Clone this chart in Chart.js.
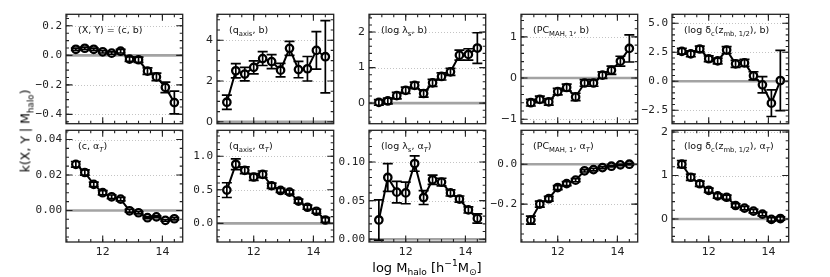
<!DOCTYPE html>
<html>
<head>
<meta charset="utf-8">
<script src="https://cdn.jsdelivr.net/npm/chart.js@4.4.0/dist/chart.umd.min.js"></script>
<style>
  body { margin:0; background:#fff; width:830px; height:277px; overflow:hidden; position:relative; font-family:"DejaVu Sans", sans-serif; color:#000; }
  canvas { position:absolute; }
  .lab { position:absolute; white-space:nowrap; z-index:5; color:#000; }
  .lab sub, .lab sup { font-size:70%; line-height:0; }
  #ylab { left:25px; top:131px; transform:translate(-50%,-50%) rotate(-90deg); font-size:12.5px; }
  #xlab { left:427px; top:267px; transform:translate(-50%,-50%); font-size:13px; }
</style>
</head>
<body>
<div id="ylab" class="lab">k(X, Y | M<sub>halo</sub>)</div>
<div id="xlab" class="lab">log M<sub>halo</sub> [h<sup>−1</sup>M<sub>⊙</sub>]</div>
<script>
// halo mass bins (log M_halo)
const massBins = [11.1, 11.4, 11.7, 12.0, 12.3, 12.6, 12.9, 13.2, 13.5, 13.8, 14.1, 14.4];
const xTickVals = [12, 14];
const xTickLabels = ['12', '14'];
const xLim = [10.77, 14.68];

// (c, b)
const kConcB = [0.041, 0.048, 0.041, 0.024, 0.015, 0.028, -0.026, -0.030, -0.107, -0.146, -0.217, -0.320];
const eConcB = [0.008, 0.008, 0.008, 0.008, 0.008, 0.012, 0.015, 0.018, 0.022, 0.025, 0.035, 0.077];
const yLimConcB = [-0.463, 0.278];
const yTicksConcB = [-0.4, -0.2, 0, 0.2];
const yLabelsConcB = ['−0.4', '−0.2', '0.0', '0.2'];

// (c, alpha_T)
const kConcA = [0.0260, 0.0214, 0.0147, 0.0100, 0.0077, 0.0064, -0.0002, -0.0013, -0.0041, -0.0036, -0.0056, -0.0047];
const eConcA = [0.0016, 0.0015, 0.0013, 0.0012, 0.0010, 0.0010, 0.0008, 0.0006, 0.0005, 0.0005, 0.0005, 0.0006];
const yLimConcA = [-0.0178, 0.0452];
const yTicksConcA = [0, 0.02, 0.04];
const yLabelsConcA = ['0.00', '0.02', '0.04'];

// (q_axis, b)
const kQaxB = [0.96, 2.50, 2.34, 2.67, 3.10, 2.95, 2.53, 3.60, 2.56, 2.60, 3.50, 3.19];
const eQaxB = [0.35, 0.35, 0.33, 0.32, 0.34, 0.34, 0.33, 0.34, 0.40, 0.60, 0.92, 1.77];
const yLimQaxB = [-0.094, 5.27];
const yTicksQaxB = [0, 2, 4];
const yLabelsQaxB = ['0', '2', '4'];

// (q_axis, alpha_T)
const kQaxA = [0.495, 0.88, 0.79, 0.69, 0.73, 0.56, 0.49, 0.465, 0.33, 0.24, 0.18, 0.05];
const eQaxA = [0.11, 0.08, 0.05, 0.05, 0.05, 0.04, 0.03, 0.03, 0.03, 0.03, 0.03, 0.035];
const yLimQaxA = [-0.278, 1.386];
const yTicksQaxA = [0, 0.5, 1.0];
const yLabelsQaxA = ['0.0', '0.5', '1.0'];

// (log lambda_s, b)
const kSpinB = [0.02, 0.06, 0.21, 0.36, 0.50, 0.27, 0.57, 0.75, 0.88, 1.35, 1.37, 1.55];
const eSpinB = [0.08, 0.08, 0.09, 0.09, 0.09, 0.10, 0.10, 0.10, 0.10, 0.14, 0.16, 0.43];
const yLimSpinB = [-0.58, 2.5];
const yTicksSpinB = [0, 1, 2];
const yLabelsSpinB = ['0', '1', '2'];

// (log lambda_s, alpha_T)
const kSpinA = [0.025, 0.080, 0.061, 0.060, 0.098, 0.054, 0.077, 0.074, 0.060, 0.052, 0.038, 0.027];
const eSpinA = [0.026, 0.018, 0.014, 0.014, 0.010, 0.009, 0.006, 0.005, 0.004, 0.004, 0.004, 0.006];
const yLimSpinA = [-0.0035, 0.141];
const yTicksSpinA = [0, 0.05, 0.10];
const yLabelsSpinA = ['0.00', '0.05', '0.10'];

// (PC_MAH,1, b)
const kPcB = [-0.60, -0.52, -0.58, -0.33, -0.23, -0.46, -0.12, -0.12, 0.07, 0.19, 0.41, 0.72];
const ePcB = [0.08, 0.08, 0.08, 0.08, 0.08, 0.09, 0.08, 0.08, 0.08, 0.10, 0.12, 0.33];
const yLimPcB = [-1.11, 1.55];
const yTicksPcB = [-1, 0, 1];
const yLabelsPcB = ['−1', '0', '1'];

// (PC_MAH,1, alpha_T)
const kPcA = [-0.280, -0.200, -0.173, -0.117, -0.097, -0.080, -0.033, -0.027, -0.017, -0.010, -0.003, 0.000];
const ePcA = [0.020, 0.015, 0.012, 0.010, 0.010, 0.008, 0.006, 0.006, 0.005, 0.004, 0.004, 0.004];
const yLimPcA = [-0.39, 0.17];
const yTicksPcA = [-0.2, 0];
const yLabelsPcA = ['−0.2', '0.0'];

// (log delta_c(z_mb,1/2), b)
const kDeltaB = [2.58, 2.36, 2.78, 1.94, 1.75, 2.69, 1.50, 1.58, 0.47, -0.31, -1.89, 0.06];
const eDeltaB = [0.25, 0.25, 0.25, 0.25, 0.25, 0.30, 0.30, 0.30, 0.35, 0.70, 1.15, 2.60];
const yLimDeltaB = [-3.66, 5.77];
const yTicksDeltaB = [-2.5, 0, 2.5, 5.0];
const yLabelsDeltaB = ['−2.5', '0.0', '2.5', '5.0'];

// (log delta_c(z_mb,1/2), alpha_T)
const kDeltaA = [1.26, 0.96, 0.81, 0.66, 0.53, 0.50, 0.31, 0.25, 0.18, 0.11, -0.01, 0.01];
const eDeltaA = [0.08, 0.07, 0.06, 0.05, 0.05, 0.05, 0.04, 0.04, 0.04, 0.04, 0.04, 0.04];
const yLimDeltaA = [-0.53, 2.04];
const yTicksDeltaA = [0, 1, 2];
const yLabelsDeltaA = ['0', '1', '2'];

const panels = [
  {col:0, row:0, y:kConcB,  e:eConcB,  lim:yLimConcB,  tv:yTicksConcB,  tl:yLabelsConcB,  minor:0.05,  mono:true,  txt:[['(X, Y) = (c, b)']]},
  {col:0, row:1, y:kConcA,  e:eConcA,  lim:yLimConcA,  tv:yTicksConcA,  tl:yLabelsConcA,  minor:0.005, mono:true,  txt:[['(c, α'],['T',-1,1],[')']]},
  {col:1, row:0, y:kQaxB,   e:eQaxB,   lim:yLimQaxB,   tv:yTicksQaxB,   tl:yLabelsQaxB,   minor:0.5,   mono:false, txt:[['(q'],['axis',-1],[', b)']]},
  {col:1, row:1, y:kQaxA,   e:eQaxA,   lim:yLimQaxA,   tv:yTicksQaxA,   tl:yLabelsQaxA,   minor:0.1,   mono:true,  txt:[['(q'],['axis',-1],[', α'],['T',-1,1],[')']]},
  {col:2, row:0, y:kSpinB,  e:eSpinB,  lim:yLimSpinB,  tv:yTicksSpinB,  tl:yLabelsSpinB,  minor:0.2,   mono:false, txt:[['(log λ'],['s',-1],[', b)']]},
  {col:2, row:1, y:kSpinA,  e:eSpinA,  lim:yLimSpinA,  tv:yTicksSpinA,  tl:yLabelsSpinA,  minor:0.01,  mono:true,  txt:[['(log λ'],['s',-1],[', α'],['T',-1,1],[')']]},
  {col:3, row:0, y:kPcB,    e:ePcB,    lim:yLimPcB,    tv:yTicksPcB,    tl:yLabelsPcB,    minor:0.2,   mono:false, txt:[['(PC'],['MAH, 1',-1],[', b)']]},
  {col:3, row:1, y:kPcA,    e:ePcA,    lim:yLimPcA,    tv:yTicksPcA,    tl:yLabelsPcA,    minor:0.05,  mono:true,  txt:[['(PC'],['MAH, 1',-1],[', α'],['T',-1,1],[')']]},
  {col:4, row:0, y:kDeltaB, e:eDeltaB, lim:yLimDeltaB, tv:yTicksDeltaB, tl:yLabelsDeltaB, minor:0.5,   mono:true,  txt:[['(log δ'],['c',-1],['(z'],['mb, 1/2',-1],['), b)']]},
  {col:4, row:1, y:kDeltaA, e:eDeltaA, lim:yLimDeltaA, tv:yTicksDeltaA, tl:yLabelsDeltaA, minor:0.2,   mono:false, txt:[['(log δ'],['c',-1],['(z'],['mb, 1/2',-1],['), α'],['T',-1,1],[')']]}
];

const colLeft = [66, 217, 369, 521, 672];
const rowTop = [14, 130];
const rowH = [114, 112];
const panelW = 117;
const ML = 48, MR = 6, MT = 6;

function drawRich(ctx, x, y, segs, size) {
  segs.forEach(([t, m, it]) => {
    const fs = m ? size * 0.72 : size;
    ctx.font = (it ? 'italic ' : '') + fs + 'px "DejaVu Sans"';
    const dy = m === -1 ? size * 0.3 : (m === 1 ? -size * 0.4 : 0);
    ctx.fillText(t, x, y + dy);
    x += ctx.measureText(t).width;
  });
}

function minorVals(lo, hi, step) {
  const out = [];
  for (let v = Math.ceil(lo / step) * step; v <= hi + 1e-9; v += step) out.push(+v.toFixed(6));
  return out;
}

const panelPlugin = {
  id: 'panelDeco',
  beforeDatasetsDraw(chart) {
    const p = chart.options.plugins.panelDeco.p;
    const {ctx, chartArea: a, scales: {y}} = chart;
    ctx.save();
    // dotted grid at major y ticks
    ctx.strokeStyle = '#b5b5b5';
    ctx.lineWidth = 0.8;
    ctx.setLineDash([1, 2]);
    p.tv.forEach(v => {
      if (v === 0) return;
      const py = Math.round(y.getPixelForValue(v)) + 0.5;
      ctx.beginPath(); ctx.moveTo(a.left, py); ctx.lineTo(a.right, py); ctx.stroke();
    });
    ctx.setLineDash([]);
    // zero line
    const z = y.getPixelForValue(0);
    ctx.strokeStyle = 'rgba(140,140,140,0.8)';
    ctx.lineWidth = 2.6;
    ctx.beginPath(); ctx.moveTo(a.left, z); ctx.lineTo(a.right, z); ctx.stroke();
    ctx.restore();
  },
  afterDatasetsDraw(chart) {
    const p = chart.options.plugins.panelDeco.p;
    const {ctx, chartArea: a, scales: {x, y}} = chart;
    ctx.save();
    // error bars
    const meta = chart.getDatasetMeta(0);
    ctx.strokeStyle = '#000';
    ctx.lineWidth = 1.7;
    meta.data.forEach((pt, i) => {
      const lo = y.getPixelForValue(p.y[i] - p.e[i]);
      const hi = y.getPixelForValue(p.y[i] + p.e[i]);
      ctx.beginPath();
      ctx.moveTo(pt.x, lo); ctx.lineTo(pt.x, hi);
      ctx.moveTo(pt.x - 5, lo); ctx.lineTo(pt.x + 5, lo);
      ctx.moveTo(pt.x - 5, hi); ctx.lineTo(pt.x + 5, hi);
      ctx.stroke();
    });
    // frame
    ctx.strokeStyle = '#222';
    ctx.lineWidth = 1.3;
    ctx.strokeRect(a.left, a.top, a.right - a.left, a.bottom - a.top);
    // inward ticks, all four sides
    ctx.lineWidth = 1.1;
    const tick = (px, len, horiz) => {
      ctx.beginPath();
      if (horiz) {
        ctx.moveTo(px, a.bottom); ctx.lineTo(px, a.bottom - len);
        ctx.moveTo(px, a.top); ctx.lineTo(px, a.top + len);
      } else {
        ctx.moveTo(a.left, px); ctx.lineTo(a.left + len, px);
        ctx.moveTo(a.right, px); ctx.lineTo(a.right - len, px);
      }
      ctx.stroke();
    };
    minorVals(xLim[0], xLim[1], 0.4).forEach(v => tick(x.getPixelForValue(v), 3, true));
    xTickVals.forEach(v => tick(x.getPixelForValue(v), 6.5, true));
    minorVals(p.lim[0], p.lim[1], p.minor).forEach(v => tick(y.getPixelForValue(v), 3, false));
    p.tv.forEach(v => tick(y.getPixelForValue(v), 6.5, false));
    // annotation
    ctx.fillStyle = '#111';
    ctx.textBaseline = 'alphabetic';
    drawRich(ctx, a.left + 12, a.top + 19, p.txt, 9.5);
    ctx.restore();
  }
};

panels.forEach(p => {
  const cv = document.createElement('canvas');
  const bottomRow = p.row === 1;
  const MB = bottomRow ? 24 : 2;
  const w = ML + panelW + MR, h = MT + rowH[p.row] + MB;
  cv.width = w; cv.height = h;
  cv.style.left = (colLeft[p.col] - ML) + 'px';
  cv.style.top = (rowTop[p.row] - MT) + 'px';
  document.body.appendChild(cv);
  const tickFont = p.mono ? '"DejaVu Sans Mono"' : '"DejaVu Sans"';
  new Chart(cv, {
    type: 'line',
    data: {
      datasets: [{
        data: massBins.map((m, i) => ({x: m, y: p.y[i]})),
        borderColor: '#000',
        borderWidth: 2,
        pointRadius: 3.7,
        pointBorderWidth: 2.3,
        pointBorderColor: '#000',
        pointBackgroundColor: '#fff',
        tension: 0
      }]
    },
    options: {
      responsive: false,
      animation: false,
      devicePixelRatio: 1,
      layout: {padding: {left: 0, right: MR, top: MT, bottom: bottomRow ? 0 : MB}},
      plugins: {legend: {display: false}, tooltip: {enabled: false}, panelDeco: {p}},
      scales: {
        x: {
          type: 'linear',
          min: xLim[0], max: xLim[1],
          display: bottomRow,
          grid: {display: false, drawTicks: false},
          border: {display: false},
          afterBuildTicks: s => { s.ticks = xTickVals.map(v => ({value: v})); },
          afterFit: s => { s.height = MB; s.paddingLeft = 0; s.paddingRight = 0; },
          ticks: {
            autoSkip: false, maxRotation: 0, padding: 4,
            color: '#222', font: {family: '"DejaVu Sans"', size: 11},
            callback: (v, i) => xTickLabels[i]
          }
        },
        y: {
          type: 'linear',
          min: p.lim[0], max: p.lim[1],
          grid: {display: false, drawTicks: false},
          border: {display: false},
          afterBuildTicks: s => { s.ticks = p.tv.map(v => ({value: v})); },
          afterFit: s => { s.width = ML; s.paddingTop = 0; s.paddingBottom = 0; },
          ticks: {
            autoSkip: false, padding: 4,
            color: '#222', font: {family: tickFont, size: 11},
            callback: (v, i) => p.tl[i]
          }
        }
      }
    },
    plugins: [panelPlugin]
  });
});
</script>
</body>
</html>
